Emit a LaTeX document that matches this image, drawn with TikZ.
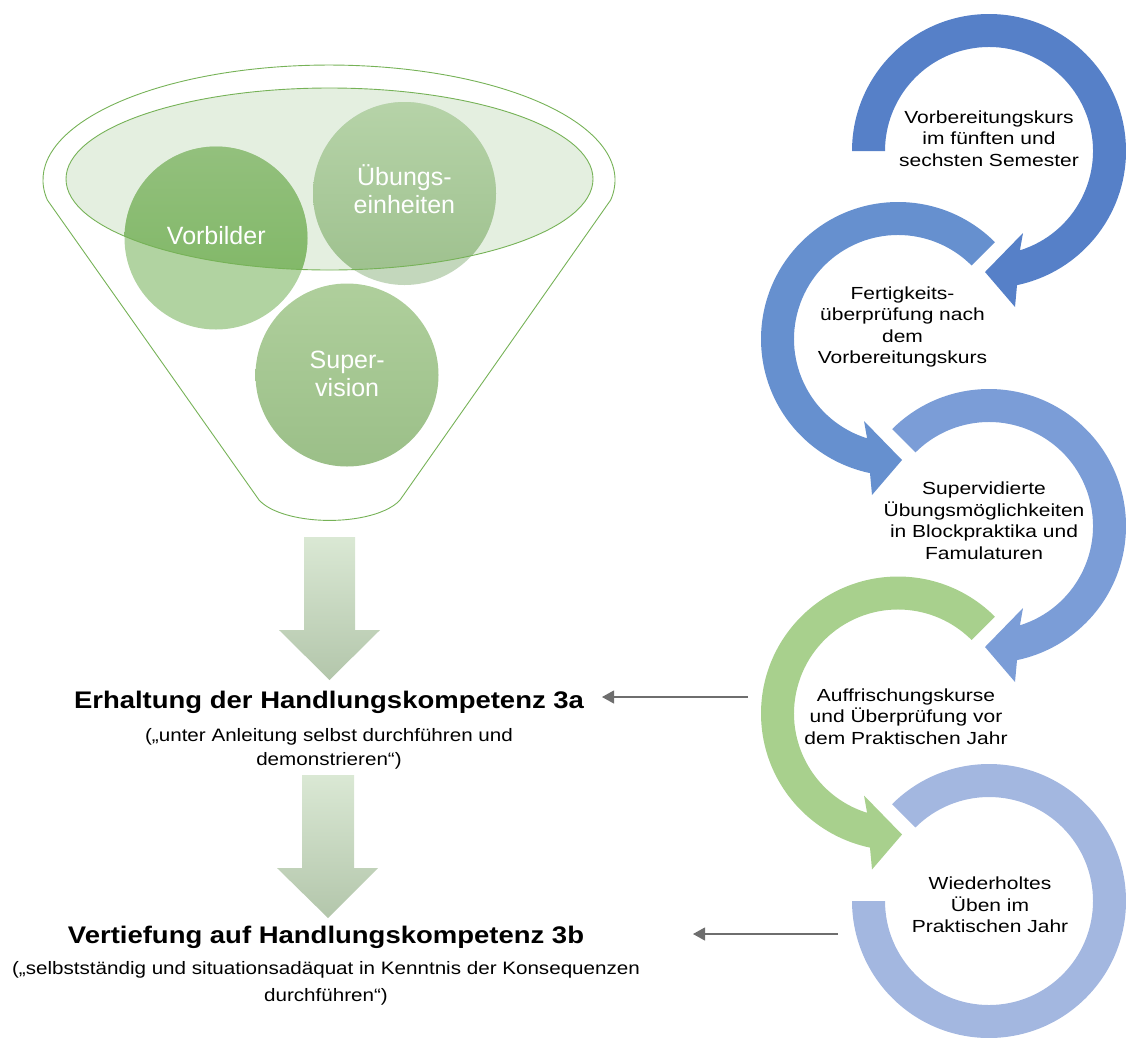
\documentclass[tikz,border=0pt]{standalone}
\usepackage{fontspec}
\setmainfont{Liberation Sans}
\newfontfamily\titlefont[FakeStretch=1.145]{Liberation Sans}
\newfontfamily\ringfont[FakeStretch=1.2]{Liberation Sans}
\usetikzlibrary{arrows.meta}

% palette
\definecolor{ringA}{HTML}{5680C8}
\definecolor{ringB}{HTML}{6690CF}
\definecolor{ringC}{HTML}{7B9DD7}
\definecolor{ringD}{HTML}{A8D08D}
\definecolor{ringE}{HTML}{A3B7E0}
\definecolor{funnelline}{HTML}{76B257}
\definecolor{bowlfill}{HTML}{E4EFE0}
\definecolor{vorbLight}{HTML}{B1D3A1}
\definecolor{vorbTop}{HTML}{93C07D}
\definecolor{vorbBot}{HTML}{7BB560}
\definecolor{uebLight}{HTML}{C3D7BC}
\definecolor{uebTop}{HTML}{B6D3A8}
\definecolor{uebBot}{HTML}{9DC08D}
\definecolor{supTop}{HTML}{AFCF9C}
\definecolor{supBot}{HTML}{9BBF88}
\definecolor{flowTop}{HTML}{DAE8D4}
\definecolor{flowBot}{HTML}{B3C6AB}
\definecolor{pointergray}{HTML}{6E6E6E}

\tikzset{
  bubbletext/.style={text=white, inner sep=0pt, align=center,
    font=\fontsize{25}{28}\selectfont},
  ringtext/.style={text=black, inner sep=0pt, align=center,
    font=\ringfont\fontsize{17.5}{21.5}\selectfont},
  titletext/.style={text=black, inner sep=0pt, anchor=base,
    font=\titlefont\bfseries\fontsize{24}{28}\selectfont},
  subtext/.style={text=black, inner sep=0pt, align=center,
    font=\titlefont\fontsize{18}{24}\selectfont},
  pointer/.style={draw=pointergray, line width=1.1pt,
    -{Triangle[length=12pt,width=13pt]}},
  flowarrow/.style={top color=flowTop, bottom color=flowBot, draw=none},
}

\begin{document}
\begin{tikzpicture}[x=1pt,y=1pt]
\useasboundingbox (0,0) rectangle (1126,-1037);

% ---------------- funnel ----------------
% bowl of the funnel
\fill[bowlfill] (329.5,-179) ellipse[x radius=263.5, y radius=91];

% Vorbilder: lighter outside the bowl, deeper green inside it
\fill[vorbLight] (216,-238) circle[radius=91.5];
\begin{scope}
  \clip (329.5,-179) ellipse[x radius=263.5, y radius=91];
  \shade[top color=vorbTop, bottom color=vorbBot] (216,-238) circle[radius=91.5];
\end{scope}

% Übungseinheiten
\fill[uebLight] (404.5,-193.5) circle[radius=91.5];
\begin{scope}
  \clip (329.5,-179) ellipse[x radius=263.5, y radius=91];
  \shade[top color=uebTop, bottom color=uebBot] (404.5,-193.5) circle[radius=91.5];
\end{scope}

% Supervision
\shade[top color=supTop, bottom color=supBot] (347,-375) circle[radius=91.5];

% rim of the bowl and outline of the funnel
\draw[funnelline, line width=0.9pt] (329.5,-179) ellipse[x radius=263.5, y radius=91];
\draw[funnelline, line width=0.9pt]
  (47.35,-200) arc[start angle=190, end angle=-10, x radius=286, y radius=115]
  -- (400,-500) arc[start angle=340, end angle=200, x radius=75, y radius=31]
  -- cycle;

\node[bubbletext] (vorbilder) at (216.3,-235.8) {Vorbilder};
\node[bubbletext] (uebung) at (404.4,-189.5) {Übungs-\\einheiten};
\node[bubbletext] (supervision) at (347.2,-373.5) {Super-\\vision};

% ---------------- downward flow arrows ----------------
\shade[flowarrow] (304,-537) -- (355,-537) -- (355,-630) -- (380,-630)
  -- (329.5,-680) -- (279,-630) -- (304,-630) -- cycle;
\shade[flowarrow] (302,-775) -- (354,-775) -- (354,-868) -- (378,-868)
  -- (328,-918) -- (277,-868) -- (302,-868) -- cycle;

% ---------------- competence levels ----------------
\node[titletext] (t3a) at (329,-708) {Erhaltung der Handlungskompetenz 3a};
\node[subtext] (s3a) at (329,-748.5)
  {(„unter Anleitung selbst durchführen und\\demonstrieren“)};
\node[titletext] (t3b) at (326,-943) {Vertiefung auf Handlungskompetenz 3b};
\node[subtext, font=\titlefont\fontsize{18}{26.7}\selectfont] (s3b) at (326,-983.6)
  {(„selbstständig und situationsadäquat in Kenntnis der Konsequenzen\\durchführen“)};

% ---------------- circular process ----------------
% 1: Vorbereitungskurs
\begin{scope}[shift={(989,-151)}]
  \fill[ringA] (180:137) arc[start angle=180, end angle=-78.2, radius=137]
    -- (26,-156) -- (-4,-121) -- (34,-82)
    -- (-72.7:104) arc[start angle=-72.7, end angle=180, radius=104] -- cycle;
\end{scope}
% 2: Fertigkeitsüberprüfung
\begin{scope}[shift={(898,-339)}]
  \fill[ringB] (45:137) arc[start angle=45, end angle=258.2, radius=137]
    -- (-26,-156) -- (4,-121) -- (-34,-82)
    -- (252.7:104) arc[start angle=252.7, end angle=45, radius=104] -- cycle;
\end{scope}
% 3: Supervidierte Übungsmöglichkeiten
\begin{scope}[shift={(989,-526)}]
  \fill[ringC] (135:137) arc[start angle=135, end angle=-78.2, radius=137]
    -- (26,-156) -- (-4,-121) -- (34,-82)
    -- (-72.7:104) arc[start angle=-72.7, end angle=135, radius=104] -- cycle;
\end{scope}
% 4: Auffrischungskurse
\begin{scope}[shift={(898,-713.5)}]
  \fill[ringD] (45:137) arc[start angle=45, end angle=258.2, radius=137]
    -- (-26,-156) -- (4,-121) -- (-34,-82)
    -- (252.7:104) arc[start angle=252.7, end angle=45, radius=104] -- cycle;
\end{scope}
% 5: Wiederholtes Üben
\begin{scope}[shift={(989,-901)}]
  \fill[ringE] (135:137) arc[start angle=135, end angle=-180, radius=137]
    -- (180:104) arc[start angle=-180, end angle=135, radius=104] -- cycle;
\end{scope}

\node[ringtext] (r1) at (989,-138.5)
  {Vorbereitungskurs\\im fünften und\\sechsten Semester};
\node[ringtext] (r2) at (902.5,-326.8)
  {Fertigkeits-\\überprüfung nach\\dem\\Vorbereitungskurs};
\node[ringtext] (r3) at (984,-520.8)
  {Supervidierte\\Übungsmöglichkeiten\\in Blockpraktika und\\Famulaturen};
\node[ringtext] (r4) at (906,-716.5)
  {Auffrischungskurse\\und Überprüfung vor\\dem Praktischen Jahr};
\node[ringtext] (r5) at (990,-905)
  {Wiederholtes\\Üben im\\Praktischen Jahr};

% ---------------- pointers to the competence levels ----------------
\coordinate (from4) at (748,-697);
\coordinate (in3a) at (602,-697);
\coordinate (from5) at (838,-934);
\coordinate (in3b) at (693,-934);
\draw[pointer] (from4) -- (in3a);
\draw[pointer] (from5) -- (in3b);
\end{tikzpicture}
\end{document}
